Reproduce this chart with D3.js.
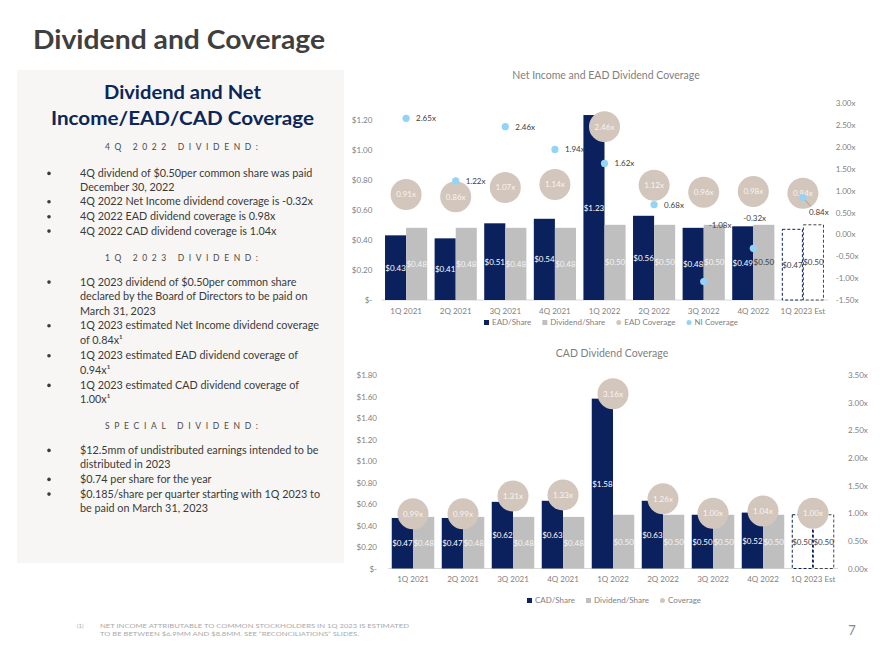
<!DOCTYPE html>
<html lang="en">
<head>
<meta charset="UTF-8">
<title>Dividend and Coverage</title>
<style>
    body{ margin:0; background:#fff; }
    svg{ display:block; }
    text{ font-family: Lato, "Open Sans", sans-serif; }
</style>
</head>
<body>
<script src="https://cdn.jsdelivr.net/npm/d3@7"></script>
<script>
// ---- data ----
const quarters = ["1Q 2021","2Q 2021","3Q 2021","4Q 2021","1Q 2022","2Q 2022","3Q 2022","4Q 2022","1Q 2023 Est"];

// net income / EAD chart
const eadShare      = [0.43, 0.41, 0.51, 0.54, 1.23, 0.56, 0.48, 0.49, 0.47];
const dividendShare = [0.48, 0.48, 0.48, 0.48, 0.50, 0.50, 0.50, 0.50, 0.50];
const eadCoverage   = [0.91, 0.86, 1.07, 1.14, 2.46, 1.12, 0.96, 0.98, 0.94];
const niCoverage    = [2.65, 1.22, 2.46, 1.94, 1.62, 0.68, -1.08, -0.32, 0.84];

// CAD chart
const cadShare         = [0.47, 0.47, 0.62, 0.63, 1.58, 0.63, 0.50, 0.52, 0.50];
const cadDividendShare = [0.48, 0.48, 0.48, 0.48, 0.50, 0.50, 0.50, 0.50, 0.50];
const cadCoverage      = [0.99, 0.99, 1.31, 1.33, 3.16, 1.26, 1.00, 1.04, 1.00];

// axis ticks
const topLeftTicks     = [0, 0.2, 0.4, 0.6, 0.8, 1.0, 1.2];
const topRightTicks    = [-1.5, -1.0, -0.5, 0, 0.5, 1.0, 1.5, 2.0, 2.5, 3.0];
const bottomLeftTicks  = [0, 0.2, 0.4, 0.6, 0.8, 1.0, 1.2, 1.4, 1.6, 1.8];
const bottomRightTicks = [0, 0.5, 1.0, 1.5, 2.0, 2.5, 3.0, 3.5];

const navy = '#0b215e', grey = '#bfbfbf', beige = '#d3c6bc', sky = '#93d4f5';
const axisGrey = '#7f7f7f', darkText = '#404040';

const svg = d3.select('body').append('svg')
    .attr('width', 880)
    .attr('height', 660);

svg.append('rect').attr('width', 880).attr('height', 660).attr('fill', '#fff');

// ---- page title ----
svg.append('text')
    .attr('x', 33).attr('y', 49)
    .attr('textLength', 292).attr('lengthAdjust', 'spacingAndGlyphs')
    .style('font-size', '27px').style('font-weight', 700)
    .attr('fill', '#3f3f3f')
    .text('Dividend and Coverage');

// ---- left panel ----
svg.append('rect')
    .attr('x', 17).attr('y', 70).attr('width', 327).attr('height', 493)
    .attr('fill', '#f7f6f4');

svg.append('text').attr('x', 182.5).attr('y', 99).attr('text-anchor', 'middle')
    .style('font-size', '19px').style('font-weight', 700).attr('fill', '#0d2659')
    .attr('textLength', 157).attr('lengthAdjust', 'spacingAndGlyphs')
    .text('Dividend and Net');
svg.append('text').attr('x', 182.5).attr('y', 125).attr('text-anchor', 'middle')
    .style('font-size', '19px').style('font-weight', 700).attr('fill', '#0d2659')
    .attr('textLength', 263).attr('lengthAdjust', 'spacingAndGlyphs')
    .text('Income/EAD/CAD Coverage');

const headers = [
    {t: '4Q 2022 DIVIDEND:', y: 149.5},
    {t: '1Q 2023 DIVIDEND:', y: 260.5},
    {t: 'SPECIAL DIVIDEND:', y: 428.5}
];
svg.append('g').selectAll('text')
    .data(headers)
    .enter()
    .append('text')
        .attr('x', 181.5).attr('y', d => d.y)
        .attr('text-anchor', 'middle')
        .attr('textLength', 153).attr('lengthAdjust', 'spacing')
        .style('font-size', '8.5px')
        .attr('fill', '#4a4a4a')
        .text(d => d.t);

const bullets = [
    {y: 176.8, lines: ['4Q dividend of $0.50per common share was paid', 'December 30, 2022']},
    {y: 205.2, lines: ['4Q 2022 Net Income dividend coverage is -0.32x']},
    {y: 220.2, lines: ['4Q 2022 EAD dividend coverage is 0.98x']},
    {y: 234.5, lines: ['4Q 2022 CAD dividend coverage is 1.04x']},
    {y: 285.5, lines: ['1Q 2023 dividend of $0.50per common share', 'declared by the Board of Directors to be paid on', 'March 31, 2023']},
    {y: 329.2, lines: ['1Q 2023 estimated Net Income dividend coverage', 'of 0.84x¹']},
    {y: 359.2, lines: ['1Q 2023 estimated EAD dividend coverage of', '0.94x¹']},
    {y: 388.8, lines: ['1Q 2023 estimated CAD dividend coverage of', '1.00x¹']},
    {y: 453.8, lines: ['$12.5mm of undistributed earnings intended to be', 'distributed in 2023']},
    {y: 482.8, lines: ['$0.74 per share for the year']},
    {y: 497.5, lines: ['$0.185/share per quarter starting with 1Q 2023 to', 'be paid on March 31, 2023']}
];
const lineH = 14.6;
const gb = svg.append('g');
bullets.forEach(b => {
    gb.append('circle').attr('cx', 49).attr('cy', b.y - 3.4).attr('r', 1.8).attr('fill', '#3a3a3a');
    b.lines.forEach((l, i) => {
        gb.append('text')
            .attr('x', 80).attr('y', b.y + i * lineH)
            .style('font-size', '10.8px')
            .attr('fill', '#3a3a3a')
            .text(l);
    });
});

// ---- footer ----
svg.append('text').attr('x', 77).attr('y', 628).style('font-size', '6px').attr('fill', '#aaa').text('(1)');
svg.append('text').attr('x', 100).attr('y', 628).style('font-size', '6.3px').attr('fill', '#aaa')
    .attr('textLength', 309).attr('lengthAdjust', 'spacingAndGlyphs')
    .text('NET INCOME ATTRIBUTABLE TO COMMON STOCKHOLDERS IN 1Q 2023 IS ESTIMATED');
svg.append('text').attr('x', 100).attr('y', 636).style('font-size', '6.3px').attr('fill', '#aaa')
    .attr('textLength', 259).attr('lengthAdjust', 'spacingAndGlyphs')
    .text('TO BE BETWEEN $6.9MM AND $8.8MM. SEE \u201CRECONCILIATIONS\u201D SLIDES.');
svg.append('text').attr('x', 852).attr('y', 635).attr('text-anchor', 'middle')
    .style('font-size', '13px').attr('fill', '#8a8a8a').text('7');

// ---- chart helper ----
function money(v){ return v === 0 ? '$-' : '$' + v.toFixed(2); }
function times(v){ return v.toFixed(2) + 'x'; }

function drawChart(c){
    const g = svg.append('g');
    const x = d3.scaleBand().domain(quarters).range(c.xRange).paddingInner(0.15).paddingOuter(0.075);
    const x1 = d3.scaleBand().domain(['share', 'div']).range([0, x.bandwidth()]);
    const yL = d3.scaleLinear().domain(c.leftDomain).range([c.base, c.top]);
    const yR = d3.scaleLinear().domain(c.rightDomain).range([c.base, c.top]);
    const last = quarters.length - 1;
    const y0 = yL(0);

    // title
    g.append('text').attr('x', c.titleX).attr('y', c.titleY).attr('text-anchor', 'middle')
        .style('font-size', '10.5px').attr('fill', axisGrey).text(c.title);

    // axes (labels only)
    g.append('g').attr('transform', `translate(${c.xRange[0]},0)`)
        .call(d3.axisLeft(yL).tickValues(c.leftTicks).tickFormat(money).tickSize(0).tickPadding(c.leftPad))
        .call(a => a.select('.domain').remove())
        .selectAll('text').attr('fill', axisGrey).style('font-size', '8px');
    g.append('g').attr('transform', `translate(${c.xRange[1]},0)`)
        .call(d3.axisRight(yR).tickValues(c.rightTicks).tickFormat(times).tickSize(0).tickPadding(c.rightPad))
        .call(a => a.select('.domain').remove())
        .selectAll('text').attr('fill', axisGrey).style('font-size', '8px');
    g.append('g').attr('transform', `translate(0,${y0})`)
        .call(d3.axisBottom(x).tickSize(0).tickPadding(8))
        .call(a => a.select('.domain').remove())
        .selectAll('text').attr('fill', axisGrey).style('font-size', '8px');

    g.append('line')
        .attr('x1', c.xRange[0]).attr('x2', c.xRange[1])
        .attr('y1', y0).attr('y2', y0)
        .attr('stroke', '#d9d9d9');

    // bars
    const bars = [];
    quarters.forEach((q, i) => {
        bars.push({q, i, key: 'share', v: c.share[i]});
        bars.push({q, i, key: 'div', v: c.div[i]});
    });

    g.append('g').selectAll('rect')
        .data(bars)
        .enter()
        .append('rect')
            .attr('x', d => x(d.q) + x1(d.key) + (d.i === last ? 0.5 : 0))
            .attr('y', d => yL(d.v))
            .attr('width', d => x1.bandwidth() - (d.i === last ? 1 : 0))
            .attr('height', d => y0 - yL(d.v))
            .attr('fill', d => d.i === last ? '#fff' : (d.key === 'share' ? navy : grey))
            .attr('stroke', d => d.i === last ? (d.key === 'share' ? navy : '#444') : 'none')
            .attr('stroke-dasharray', d => d.i === last ? '3,2' : null);

    g.append('g').selectAll('text')
        .data(bars)
        .enter()
        .append('text')
            .attr('x', d => x(d.q) + x1(d.key) + x1.bandwidth() / 2)
            .attr('y', d => (yL(d.v) + y0) / 2 + 3)
            .attr('text-anchor', 'middle')
            .style('font-size', '8px')
            .attr('fill', d => {
                if (d.i === last) return darkText;
                if (c.darkDivLabels && c.darkDivLabels.includes(d.i) && d.key === 'div') return darkText;
                return d.key === 'share' ? '#fff' : '#f4f4f4';
            })
            .text(d => money(d.v));

    // coverage bubbles
    const bub = g.append('g');
    bub.selectAll('circle')
        .data(c.coverage)
        .enter()
        .append('circle')
            .attr('cx', (d, i) => x(quarters[i]) + x.bandwidth() / 2)
            .attr('cy', d => yR(d))
            .attr('r', 15.5)
            .attr('fill', beige);
    bub.selectAll('text')
        .data(c.coverage)
        .enter()
        .append('text')
            .attr('x', (d, i) => x(quarters[i]) + x.bandwidth() / 2)
            .attr('y', d => yR(d) + 3)
            .attr('text-anchor', 'middle')
            .style('font-size', '8px')
            .attr('fill', '#f8f5f2')
            .text(d => times(d));

    // net income dots
    if (c.dots) {
        const dg = g.append('g');
        const cx = i => x(quarters[i]) + x.bandwidth() / 2;
        // label offsets where the labels were moved by hand on the slide
        const nudge = {6: [5, -54], 7: [-10, -27], 8: [6, 17]};
        dg.append('line')
            .attr('x1', cx(last)).attr('y1', yR(c.dots[last]))
            .attr('x2', cx(last) + 8).attr('y2', yR(c.dots[last]) + 9)
            .attr('stroke', '#8c8c8c').attr('stroke-width', 0.7);
        dg.selectAll('circle')
            .data(c.dots)
            .enter()
            .append('circle')
                .attr('cx', (d, i) => cx(i))
                .attr('cy', d => yR(d))
                .attr('r', 3.6)
                .attr('fill', sky);
        dg.selectAll('text')
            .data(c.dots)
            .enter()
            .append('text')
                .attr('x', (d, i) => cx(i) + (nudge[i] ? nudge[i][0] : 10))
                .attr('y', (d, i) => yR(d) + (nudge[i] ? nudge[i][1] : 3))
                .style('font-size', '8px')
                .attr('fill', darkText)
                .text(d => times(d));
    }

    // legend
    const lg = g.append('g');
    let cursor = 0;
    c.legend.forEach(item => {
        const it = lg.append('g').attr('transform', `translate(${cursor},0)`);
        if (item.shape === 'rect') {
            it.append('rect').attr('x', 0).attr('y', -5).attr('width', 5).attr('height', 5).attr('fill', item.color);
        } else {
            it.append('circle').attr('cx', 2.5).attr('cy', -2.5).attr('r', 2.5).attr('fill', item.color);
        }
        const t = it.append('text').attr('x', 8).attr('y', 0)
            .style('font-size', '8px').attr('fill', axisGrey).text(item.label);
        cursor += 8 + t.node().getComputedTextLength() + 11;
    });
    const lw = cursor - 11;
    lg.attr('transform', `translate(${c.legendX - lw / 2},${c.legendY})`);
}

drawChart({
    title: 'Net Income and EAD Dividend Coverage', titleX: 606, titleY: 79,
    xRange: [381.3, 827.7], base: 300, top: 103,
    leftDomain: [0, 1.31], rightDomain: [-1.5, 3.0],
    leftTicks: topLeftTicks, rightTicks: topRightTicks, leftPad: 9, rightPad: 8,
    share: eadShare, div: dividendShare, coverage: eadCoverage, dots: niCoverage,
    darkDivLabels: [7],
    legend: [
        {shape: 'rect', color: navy, label: 'EAD/Share'},
        {shape: 'rect', color: grey, label: 'Dividend/Share'},
        {shape: 'circle', color: beige, label: 'EAD Coverage'},
        {shape: 'circle', color: sky, label: 'NI Coverage'}
    ],
    legendX: 611, legendY: 325
});

drawChart({
    title: 'CAD Dividend Coverage', titleX: 612, titleY: 357,
    xRange: [388, 838], base: 568.5, top: 375,
    leftDomain: [0, 1.8], rightDomain: [0, 3.5],
    leftTicks: bottomLeftTicks, rightTicks: bottomRightTicks, leftPad: 11, rightPad: 10,
    share: cadShare, div: cadDividendShare, coverage: cadCoverage, dots: null,
    legend: [
        {shape: 'rect', color: navy, label: 'CAD/Share'},
        {shape: 'rect', color: grey, label: 'Dividend/Share'},
        {shape: 'circle', color: beige, label: 'Coverage'}
    ],
    legendX: 614, legendY: 603
});
</script>
</body>
</html>
